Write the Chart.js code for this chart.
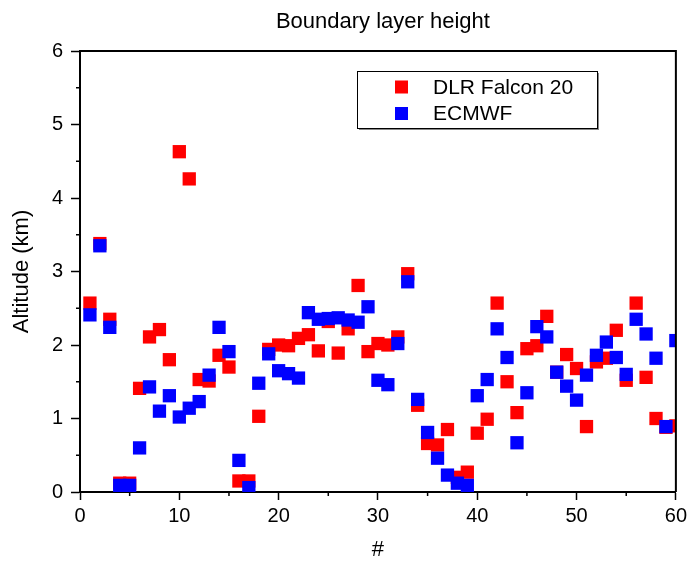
<!DOCTYPE html>
<html>
<head>
<meta charset="utf-8">
<script src="https://cdn.jsdelivr.net/npm/chart.js@4.4.1/dist/chart.umd.min.js"></script>
<style>
  html, body { margin: 0; padding: 0; background: #fff; }
</style>
</head>
<body>
<canvas id="myChart" width="691" height="564"></canvas>
<script>
// Numero de vuelo (eje x)
const flightNumbers = [
  1, 2, 3, 4, 5, 6, 7, 8, 9, 10, 11, 12, 13, 14, 15, 16, 17, 18, 19, 20,
  21, 22, 23, 24, 25, 26, 27, 28, 29, 30, 31, 32, 33, 34, 35, 36, 37, 38, 39, 40,
  41, 42, 43, 44, 45, 46, 47, 48, 49, 50, 51, 52, 53, 54, 55, 56, 57, 58, 59, 60
];

// Altura de la capa limite (km)
const dlrFalcon = [
  2.57, 3.38, 2.35, 0.12, 0.12, 1.41, 2.11, 2.21, 1.80, 4.63,
  4.26, 1.53, 1.51, 1.86, 1.70, 0.15, 0.15, 1.03, 1.94, 2.00,
  1.99, 2.09, 2.14, 1.92, 2.32, 1.89, 2.22, 2.81, 1.91, 2.02,
  2.00, 2.11, 2.97, 1.18, 0.66, 0.64, 0.85, 0.20, 0.27, 0.80,
  0.99, 2.57, 1.50, 1.08, 1.95, 1.99, 2.39, 1.63, 1.87, 1.68,
  0.89, 1.77, 1.82, 2.20, 1.52, 2.57, 1.56, 1.00, 0.88, 0.90
];

const ecmwf = [
  2.41, 3.35, 2.24, 0.09, 0.09, 0.60, 1.43, 1.10, 1.31, 1.02,
  1.14, 1.23, 1.59, 2.24, 1.91, 0.43, 0.06, 1.48, 1.88, 1.65,
  1.61, 1.55, 2.44, 2.35, 2.36, 2.37, 2.34, 2.31, 2.52, 1.52,
  1.46, 2.02, 2.86, 1.26, 0.81, 0.46, 0.23, 0.12, 0.09, 1.31,
  1.53, 2.22, 1.83, 0.67, 1.35, 2.25, 2.11, 1.63, 1.44, 1.25,
  1.59, 1.86, 2.04, 1.83, 1.60, 2.35, 2.15, 1.82, 0.89, 2.06
];

// Marcas de los ejes
const xTicks = [0, 10, 20, 30, 40, 50, 60];
const yTicks = [0, 1, 2, 3, 4, 5, 6];
const xMinorTicks = [5, 15, 25, 35, 45, 55];
const yMinorTicks = [0.5, 1.5, 2.5, 3.5, 4.5, 5.5];

const chartTitle = 'Boundary layer height';
const FONT = 'Arial, "Liberation Sans", sans-serif';

// Marco, marcas menores, titulo y leyenda
const framePlugin = {
  id: 'framePlugin',
  afterDraw(chart) {
    const ctx = chart.ctx;
    const a = chart.chartArea;
    const xs = chart.scales.x;
    const ys = chart.scales.y;
    ctx.save();

    ctx.strokeStyle = '#000';
    ctx.lineWidth = 2;
    ctx.beginPath();
    ctx.moveTo(a.left, a.top);
    ctx.lineTo(a.right, a.top);
    ctx.lineTo(a.right, a.bottom);
    ctx.stroke();

    ctx.lineWidth = 1.5;
    ctx.beginPath();
    xMinorTicks.forEach(v => {
      const px = xs.getPixelForValue(v);
      ctx.moveTo(px, a.bottom);
      ctx.lineTo(px, a.bottom + 4);
    });
    yMinorTicks.forEach(v => {
      const py = ys.getPixelForValue(v);
      ctx.moveTo(a.left - 4, py);
      ctx.lineTo(a.left, py);
    });
    ctx.stroke();

    // titulo
    ctx.fillStyle = '#000';
    ctx.font = '22px ' + FONT;
    ctx.textAlign = 'center';
    ctx.textBaseline = 'middle';
    ctx.fillText(chartTitle, (a.left + a.right) / 2 + 5, 22);

    // leyenda
    const bx = 357, by = 71, bw = 240, bh = 57;
    ctx.fillStyle = '#888';
    ctx.fillRect(bx + 2, by + 2, bw, bh);
    ctx.fillStyle = '#fff';
    ctx.fillRect(bx, by, bw, bh);
    ctx.strokeStyle = '#000';
    ctx.lineWidth = 1;
    ctx.strokeRect(bx + 0.5, by + 0.5, bw, bh);

    ctx.font = '21px ' + FONT;
    ctx.textAlign = 'left';
    chart.data.datasets.forEach((ds, i) => {
      const cy = by + 16 + i * 26.5;
      ctx.fillStyle = ds.backgroundColor;
      ctx.fillRect(bx + 38, cy - 6.5, 13, 13);
      ctx.fillStyle = '#000';
      ctx.fillText(ds.label, bx + 76, cy + 1);
    });

    ctx.restore();
  }
};

const data = {
  datasets: [
    {
      label: 'DLR Falcon 20',
      data: flightNumbers.map((n, i) => ({ x: n, y: dlrFalcon[i] })),
      backgroundColor: '#ff0000',
      pointStyle: 'rect',
      pointRadius: 9.4,
      pointHoverRadius: 9.4,
      borderWidth: 0,
      clip: 0,
      order: 2
    },
    {
      label: 'ECMWF',
      data: flightNumbers.map((n, i) => ({ x: n, y: ecmwf[i] })),
      backgroundColor: '#0000ff',
      pointStyle: 'rect',
      pointRadius: 9.4,
      pointHoverRadius: 9.4,
      borderWidth: 0,
      clip: 0,
      order: 1
    }
  ]
};

const config = {
  type: 'scatter',
  data: data,
  options: {
    responsive: false,
    animation: false,
    layout: { padding: { top: 51, right: 14, left: 0, bottom: 0 } },
    plugins: {
      legend: { display: false },
      title: { display: false },
      tooltip: { enabled: false }
    },
    scales: {
      x: {
        type: 'linear',
        min: 0,
        max: 60,
        afterBuildTicks: s => { s.ticks = xTicks.map(v => ({ value: v })); },
        afterFit: s => { s.height = 72; },
        ticks: { color: '#000', font: { size: 20, family: FONT }, padding: 4, maxRotation: 0 },
        grid: { drawOnChartArea: false, tickLength: 8, tickColor: '#000', tickWidth: 1.5 },
        border: { color: '#000', width: 2 },
        title: { display: true, text: '#', color: '#000', font: { size: 22, family: FONT }, padding: { top: 0, bottom: 1 } }
      },
      y: {
        type: 'linear',
        min: 0,
        max: 6,
        afterBuildTicks: s => { s.ticks = yTicks.map(v => ({ value: v })); },
        afterFit: s => { s.width = 80; },
        ticks: { color: '#000', font: { size: 20, family: FONT }, padding: 8 },
        grid: { drawOnChartArea: false, tickLength: 9, tickColor: '#000', tickWidth: 1.5 },
        border: { color: '#000', width: 2 },
        title: { display: true, text: 'Altitude (km)', color: '#000', font: { size: 22, family: FONT }, padding: { top: 9, bottom: 0 } }
      }
    }
  },
  plugins: [framePlugin]
};

const myChart = new Chart(document.getElementById('myChart').getContext('2d'), config);
</script>
</body>
</html>
